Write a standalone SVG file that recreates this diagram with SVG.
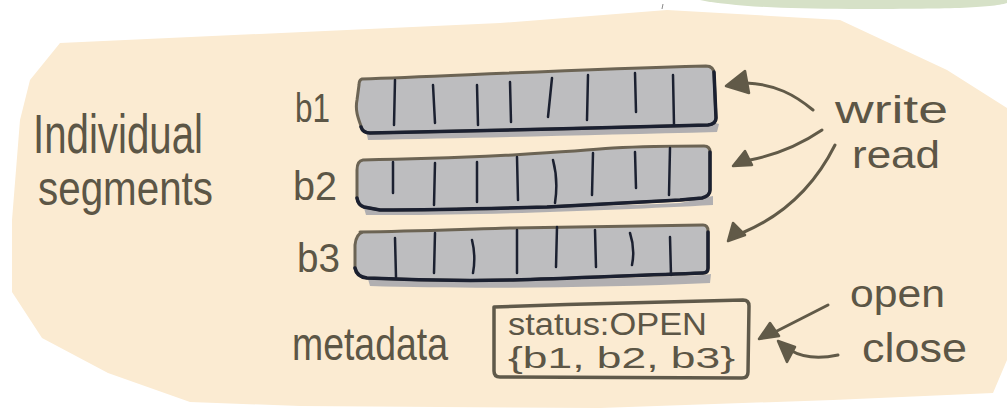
<svg xmlns="http://www.w3.org/2000/svg" width="1007" height="408" viewBox="0 0 1007 408">
  <defs>
    <style>
      .hand { font-family: "Liberation Sans", "DejaVu Sans", sans-serif; fill: #5c5646; }
      .bar { fill: #bdbdbf; stroke: #6c6454; stroke-width: 3; stroke-linejoin: round; }
      .shadow { fill: #a9a9ad; opacity: 0.9; }
      .under { fill: none; stroke: #1b2030; stroke-width: 3.5; stroke-linecap: round; stroke-linejoin: round; }
      .div { fill: none; stroke: #1b2030; stroke-width: 2.5; stroke-linecap: round; }
      .conn { fill: none; stroke: #615a48; stroke-width: 3; stroke-linecap: round; }
      .head { fill: #615a48; stroke: #615a48; stroke-width: 2.5; stroke-linejoin: round; }
      .box { fill: none; stroke: #5f594a; stroke-width: 3.5; stroke-linejoin: round; }
    </style>
  </defs>

  <rect width="1007" height="408" fill="#ffffff"/>
  <!-- background shapes -->
  <path d="M700,0 L1007,0 L1007,3 C990,8 950,9 850,9 C780,9 730,6 700,0 Z" fill="#d6e1c7"/>
  <path d="M663,4 L662,9" stroke="#8a8a8a" stroke-width="1"/>
  <polygon points="60,43 500,23 667,10 840,20 947,70 1007,108 1007,360 993,393 833,400 600,408 300,406 190,402 108,373 42,338 12,292 12,220 20,120 30,80" fill="#fbebd2"/>

  <!-- left label -->
  <g id="label-individual-segments">
    <text class="hand" x="33" y="153" font-size="56" textLength="170" lengthAdjust="spacingAndGlyphs">Individual</text>
    <text class="hand" x="38" y="205" font-size="48" textLength="175" lengthAdjust="spacingAndGlyphs">segments</text>
  </g>

  <!-- segment b1 -->
  <g id="seg-b1">
    <text class="hand" x="295" y="122" font-size="41" textLength="35" lengthAdjust="spacingAndGlyphs">b1</text>
    <path class="shadow" d="M366,130 C470,129 600,126 712,122 L719,124 L717,132 C600,135 470,138 368,140 Z"/>
    <path class="bar" d="M362,79 C450,76 560,70 706,66 Q714,66 714,74 L716,118 Q716,124 708,125 C600,128 470,131 370,133 Q362,133 361,126 C358,118 355,110 357,100 L359,85 Q359,80 362,79 Z"/>
    <path class="under" d="M714,72 L716,118 Q716,124 708,125 C600,128 470,131 370,133 Q363,133 361,127"/>
    <path class="div" d="M395,80 L394,125 M433,85 L435,123 M477,85 L478,125 M510,82 L511,122 M552,78 L548,117 M588,75 L587,120 M635,73 L636,112 M673,75 L674,125"/>
  </g>

  <!-- segment b2 -->
  <g id="seg-b2">
    <text class="hand" x="293" y="200" font-size="41" textLength="44" lengthAdjust="spacingAndGlyphs">b2</text>
    <path class="shadow" d="M364,208 C450,211 560,208 680,203 L713,196 L713,205 C620,210 470,216 366,215 Z"/>
    <path class="bar" d="M363,160 C430,159 470,157 513,155 C560,152 590,150 613,148 C650,146 680,146 704,146 Q710,146 710,152 L710,190 Q710,196 702,198 L680,200 C620,203 560,206 547,207 C480,209 420,210 380,210 L364,207 Q358,205 357,198 L357,170 Q357,161 363,160 Z"/>
    <path class="under" d="M710,152 L710,190 Q710,196 702,198 L680,200 C620,203 560,206 547,207 C480,209 420,210 380,210 L364,207 Q358,205 357,198"/>
    <path class="div" d="M393,162 L393,193 M435,163 L434,205 M477,162 L477,202 M517,157 L518,200 M553,160 C557,175 557,190 555,203 M593,153 L592,195 M635,152 L636,188 M670,148 L669,195"/>
  </g>

  <!-- segment b3 -->
  <g id="seg-b3">
    <text class="hand" x="297" y="272" font-size="41" textLength="43" lengthAdjust="spacingAndGlyphs">b3</text>
    <path class="shadow" d="M368,279 C450,282 560,281 703,275 L711,274 L710,283 C600,288 470,289 370,286 Z"/>
    <path class="bar" d="M360,232 C420,231 470,229 513,228 C600,227 660,226 703,225 Q708,225 708,231 L708,268 Q708,273 703,273 C620,276 560,279 513,280 C460,281 410,280 367,278 Q356,277 355,268 L355,245 Q356,234 363,232 Z"/>
    <path class="under" d="M708,232 L708,268 Q708,273 703,273 C620,276 560,279 513,280 C460,281 410,280 367,278 Q357,277 355,268"/>
    <path class="div" d="M395,238 L396,277 M435,233 L434,273 M472,240 C475,252 475,262 473,273 M517,230 L517,273 M557,227 L556,267 M595,230 L596,267 M630,233 C634,245 634,255 632,265 M670,237 L671,275"/>
  </g>

  <!-- write / read labels -->
  <g id="label-write-read">
    <text class="hand" x="835" y="123" font-size="38" textLength="113" lengthAdjust="spacingAndGlyphs">write</text>
    <text class="hand" x="852" y="168" font-size="38" textLength="88" lengthAdjust="spacingAndGlyphs">read</text>
  </g>

  <!-- metadata -->
  <g id="metadata">
    <text class="hand" x="292" y="360" font-size="46" textLength="156" lengthAdjust="spacingAndGlyphs">metadata</text>
    <path class="box" d="M494,307 C580,304 680,301 743,300 Q749,300 749,306 L748,372 Q748,378 742,378 L500,377 Q494,377 494,371 Z"/>
    <text class="hand" x="508" y="335" font-size="31" textLength="199" lengthAdjust="spacingAndGlyphs">status:OPEN</text>
    <text class="hand" x="508" y="368" font-size="30" textLength="227" lengthAdjust="spacingAndGlyphs">{b1, b2, b3}</text>
  </g>

  <!-- open / close labels -->
  <g id="label-open-close">
    <text class="hand" x="850" y="307" font-size="38" textLength="95" lengthAdjust="spacingAndGlyphs">open</text>
    <text class="hand" x="862" y="362" font-size="40" textLength="105" lengthAdjust="spacingAndGlyphs">close</text>
  </g>

  <!-- connectors -->
  <g id="connectors">
    <path class="conn" d="M813,110 C795,95 775,84 746,83"/>
    <polygon class="head" points="726,86 745,71 749,93"/>
    <path class="conn" d="M822,130 C800,145 775,155 750,160"/>
    <polygon class="head" points="733,166 745,151 752,165"/>
    <path class="conn" d="M835,145 C815,185 785,215 742,233"/>
    <polygon class="head" points="728,241 733,223 745,235"/>
    <path class="conn" d="M828,305 L775,332"/>
    <polygon class="head" points="759,339 770,323 779,336"/>
    <path class="conn" d="M838,355 C815,360 800,356 790,350"/>
    <polygon class="head" points="778,341 795,347 787,362"/>
  </g>
</svg>
